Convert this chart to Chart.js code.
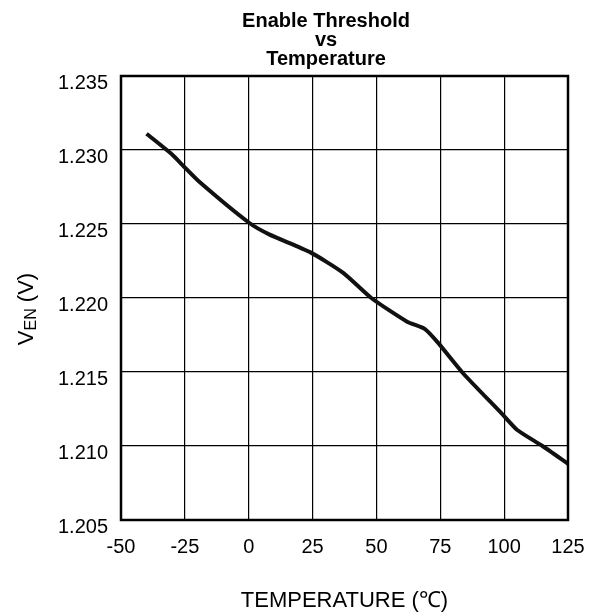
<!DOCTYPE html>
<html>
<head>
<meta charset="utf-8">
<script src="https://cdn.jsdelivr.net/npm/chart.js@4"></script>
<style>
  html, body { margin: 0; padding: 0; background: #fff; }
  #wrap { width: 589px; height: 614px; }
</style>
</head>
<body>
<div id="wrap"><canvas id="enChart" width="589" height="614"></canvas></div>
<script>
// values
const temps = [-40, -30, -26, -19, 0, 8, 24, 37, 48, 62, 69, 74, 84, 99, 105, 115, 125];
const vEn = [1.2311, 1.2297, 1.2290, 1.2278, 1.2251, 1.2243, 1.2231, 1.2217, 1.2200,
             1.2184, 1.2179, 1.2170, 1.2149, 1.2122, 1.2111, 1.2100, 1.2088];
const titleLines = ['Enable Threshold', 'vs', 'Temperature'];
const xTitle = 'TEMPERATURE (\u2103)';

const FONT = 'Arial, "Liberation Sans", Helvetica, sans-serif';

// titles, frame and the subscripted y label are drawn here
const decorations = {
    id: 'decorations',
    afterDatasetsDraw(chart) {
        const ctx = chart.ctx;
        const area = chart.chartArea;
        ctx.save();
        ctx.strokeStyle = '#000';
        ctx.lineWidth = 2.5;
        ctx.strokeRect(area.left, area.top, area.right - area.left, area.bottom - area.top);
        ctx.restore();
    },
    afterDraw(chart) {
        const ctx = chart.ctx;
        const area = chart.chartArea;
        ctx.save();
        ctx.fillStyle = '#000';
        ctx.textAlign = 'center';
        ctx.textBaseline = 'alphabetic';

        ctx.font = 'bold 20px ' + FONT;
        const baselines = [27, 46, 65];
        titleLines.forEach((t, i) => ctx.fillText(t, 326, baselines[i]));

        ctx.font = '22px ' + FONT;
        ctx.fillText(xTitle, (area.left + area.right) / 2, 607);

        // V_EN (V), rotated
        ctx.translate(33, 309);
        ctx.rotate(-Math.PI / 2);
        ctx.textAlign = 'left';
        const big = '22px ' + FONT, small = '16px ' + FONT;
        ctx.font = big;
        const w1 = ctx.measureText('V').width;
        const w3 = ctx.measureText(' (V)').width;
        ctx.font = small;
        const w2 = ctx.measureText('EN').width;
        let x = -(w1 + w2 + w3) / 2;
        ctx.font = big;
        ctx.fillText('V', x, 0);
        x += w1;
        ctx.font = small;
        ctx.fillText('EN', x, 3);
        x += w2;
        ctx.font = big;
        ctx.fillText(' (V)', x, 0);
        ctx.restore();
    }
};

const ctx = document.getElementById('enChart').getContext('2d');
new Chart(ctx, {
    type: 'line',
    data: {
        datasets: [{
            data: temps.map((t, i) => ({ x: t, y: vEn[i] })),
            borderColor: '#111',
            borderWidth: 4,
            pointRadius: 0,
            tension: 0.2,
            fill: false
        }]
    },
    options: {
        responsive: false,
        animation: false,
        layout: { padding: { top: 76, right: 21, left: 0, bottom: 0 } },
        plugins: {
            legend: { display: false },
            title: { display: false },
            tooltip: { enabled: false }
        },
        scales: {
            x: {
                type: 'linear',
                min: -50,
                max: 125,
                afterFit: s => {
                    s.height = 94;
                    s.paddingLeft = 0;
                    s.paddingRight = 0;
                },
                grid: { color: '#000', lineWidth: 1.2, drawTicks: false },
                border: { display: false },
                ticks: {
                    stepSize: 25,
                    padding: 15,
                    color: '#000',
                    font: { size: 20, family: FONT }
                }
            },
            y: {
                min: 1.205,
                max: 1.235,
                afterFit: s => {
                    s.width = 121;
                    s.paddingTop = 0;
                    s.paddingBottom = 0;
                },
                grid: { color: '#000', lineWidth: 1.2, drawTicks: false },
                border: { display: false },
                ticks: {
                    stepSize: 0.005,
                    padding: 13,
                    labelOffset: 7,
                    color: '#000',
                    font: { size: 20, family: FONT },
                    callback: v => v.toFixed(3)
                }
            }
        }
    },
    plugins: [decorations]
});
</script>
</body>
</html>
